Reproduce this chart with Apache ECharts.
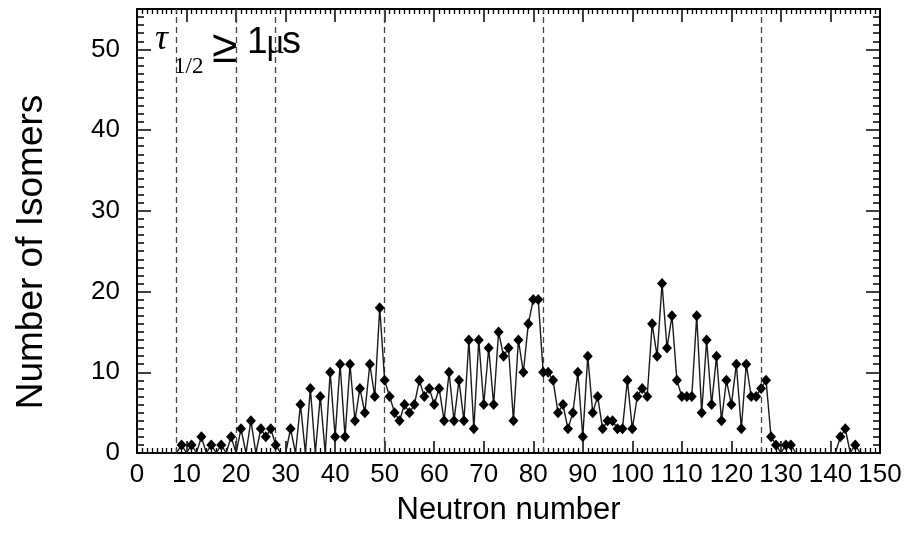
<!DOCTYPE html>
<html>
<head>
<meta charset="utf-8">
<script src="https://cdn.jsdelivr.net/npm/echarts@6/dist/echarts.min.js"></script>
<style>
  html, body { margin: 0; padding: 0; background: #fff; }
  #chart { width: 922px; height: 541px; }
</style>
</head>
<body>
<div id="chart"></div>
<script>
// Number of isomers (T1/2 >= 1 us) for each neutron number N, starting at N = 0
const firstNeutron = 0;
const isomerCounts = [
  0, 0, 0, 0, 0, 0, 0, 0, 0, 1,        // N 0-9
  0, 1, 0, 2, 0, 1, 0, 1, 0, 2,        // N 10-19
  0, 3, 0, 4, 0, 3, 2, 3, 1, 0,        // N 20-29
  0, 3, 0, 6, 0, 8, 0, 7, 0, 10,       // N 30-39
  2, 11, 2, 11, 4, 8, 5, 11, 7, 18,    // N 40-49
  9, 7, 5, 4, 6, 5, 6, 9, 7, 8,        // N 50-59
  6, 8, 4, 10, 4, 9, 4, 14, 3, 14,     // N 60-69
  6, 13, 6, 15, 12, 13, 4, 14, 10, 16, // N 70-79
  19, 19, 10, 10, 9, 5, 6, 3, 5, 10,   // N 80-89
  2, 12, 5, 7, 3, 4, 4, 3, 3, 9,       // N 90-99
  3, 7, 8, 7, 16, 12, 21, 13, 17, 9,   // N 100-109
  7, 7, 7, 17, 5, 14, 6, 12, 4, 9,     // N 110-119
  6, 11, 3, 11, 7, 7, 8, 9, 2, 1,      // N 120-129
  0, 1, 1, 0, 0, 0, 0, 0, 0, 0,        // N 130-139
  0, 0, 2, 3, 0, 1, 0, 0, 0, 0, 0      // N 140-150
];
// Magic numbers marked with dashed lines
const magicNumbers = [8, 20, 28, 50, 82, 126];
const xTickLabels = ['0','10','20','30','40','50','60','70','80','90','100','110','120','130','140','150'];
const yTickLabels = ['0','10','20','30','40','50'];
const xTitle = 'Neutron number';
const yTitle = 'Number of Isomers';

const seriesData = isomerCounts.map(function (v, i) {
  const item = { value: [firstNeutron + i, v] };
  if (v === 0) item.symbol = 'none';
  return item;
});

const FONT = "'Liberation Sans', Arial, Helvetica, sans-serif";
const SERIF = "'Liberation Serif', 'Times New Roman', 'DejaVu Serif', serif";

const chart = echarts.init(document.getElementById('chart'), null, { renderer: 'canvas' });

function frameX(position, showLabels, majorLen, minorLen, extra) {
  return Object.assign({
    type: 'value', position: position, gridIndex: 0,
    min: 0, max: 150, interval: 10,
    axisLine: { show: true, onZero: false, lineStyle: { color: '#000', width: 2 } },
    axisTick: { show: true, inside: true, length: majorLen, lineStyle: { color: '#000', width: 1.5 } },
    minorTick: { show: true, splitNumber: 10, length: minorLen, lineStyle: { color: '#000', width: 1.3 } },
    splitLine: { show: false }, minorSplitLine: { show: false },
    axisLabel: showLabels ? {
      show: true, color: '#000', fontFamily: FONT, fontSize: 26, margin: 9,
      formatter: function (v) { const k = Math.round(v / 10); return xTickLabels[k] !== undefined ? xTickLabels[k] : ''; }
    } : { show: false }
  }, extra || {});
}

function frameY(position, interval, tickLen, showLabels, withLine, extra) {
  return Object.assign({
    type: 'value', position: position, gridIndex: 0,
    min: 0, max: 55, interval: interval,
    axisLine: { show: withLine, onZero: false, lineStyle: { color: '#000', width: 2 } },
    axisTick: { show: true, inside: true, length: tickLen, lineStyle: { color: '#000', width: 1.5 } },
    splitLine: { show: false },
    axisLabel: showLabels ? {
      show: true, color: '#000', fontFamily: FONT, fontSize: 26, margin: 17, showMaxLabel: false,
      formatter: function (v) { const k = Math.round(v / 10); return (v % 10 === 0 && yTickLabels[k] !== undefined) ? yTickLabels[k] : ''; }
    } : { show: false }
  }, extra || {});
}

const option = {
  backgroundColor: '#ffffff',
  animation: false,
  grid: { left: 137, right: 42, top: 9, bottom: 88, containLabel: false },
  xAxis: [
    frameX('bottom', true, 12, 5, {
      name: xTitle, nameLocation: 'middle', nameGap: 42,
      nameTextStyle: { color: '#000', fontFamily: FONT, fontSize: 31 }
    }),
    frameX('top', false, 13, 5)
  ],
  yAxis: [
    frameY('left', 10, 14, true, true),
    frameY('left', 1, 7, false, false),
    frameY('right', 10, 14, false, true),
    frameY('right', 1, 7, false, false)
  ],
  series: [{
    type: 'line',
    xAxisIndex: 0, yAxisIndex: 0,
    data: seriesData,
    symbol: 'diamond',
    symbolSize: [10, 11],
    showAllSymbol: true,
    itemStyle: { color: '#000' },
    lineStyle: { color: '#1a1a1a', width: 1.4 },
    clip: true,
    z: 3,
    markLine: {
      silent: true,
      symbol: ['none', 'none'],
      label: { show: false },
      lineStyle: { color: '#444', width: 1.3, type: [6, 4] },
      data: magicNumbers.map(function (n) { return { xAxis: n }; }),
      z: 1
    }
  }],
  graphic: [
    { type: 'text', x: 32, y: 252, rotation: Math.PI / 2, z: 10,
      style: { text: yTitle, font: '37px ' + FONT, fill: '#000', textAlign: 'center', textVerticalAlign: 'middle' } },
    { type: 'text', left: 155, top: 22, z: 10,
      style: { text: 'τ', font: 'italic 36px ' + SERIF, fill: '#000' } },
    { type: 'text', left: 174, top: 55, z: 10,
      style: { text: '1/2', font: '23px ' + SERIF, fill: '#000' } },
    { type: 'text', left: 212, top: 26, z: 10,
      style: { text: '≥', font: '46px ' + FONT, fill: '#000' } },
    { type: 'text', left: 247, top: 24, z: 10,
      style: { text: '1', font: '37px ' + FONT, fill: '#000' } },
    { type: 'text', left: 266, top: 26, z: 10,
      style: { text: 'μ', font: '35px ' + SERIF, fill: '#000' } },
    { type: 'text', left: 282, top: 24, z: 10,
      style: { text: 's', font: '38px ' + FONT, fill: '#000' } }
  ]
};

chart.setOption(option);
</script>
</body>
</html>
